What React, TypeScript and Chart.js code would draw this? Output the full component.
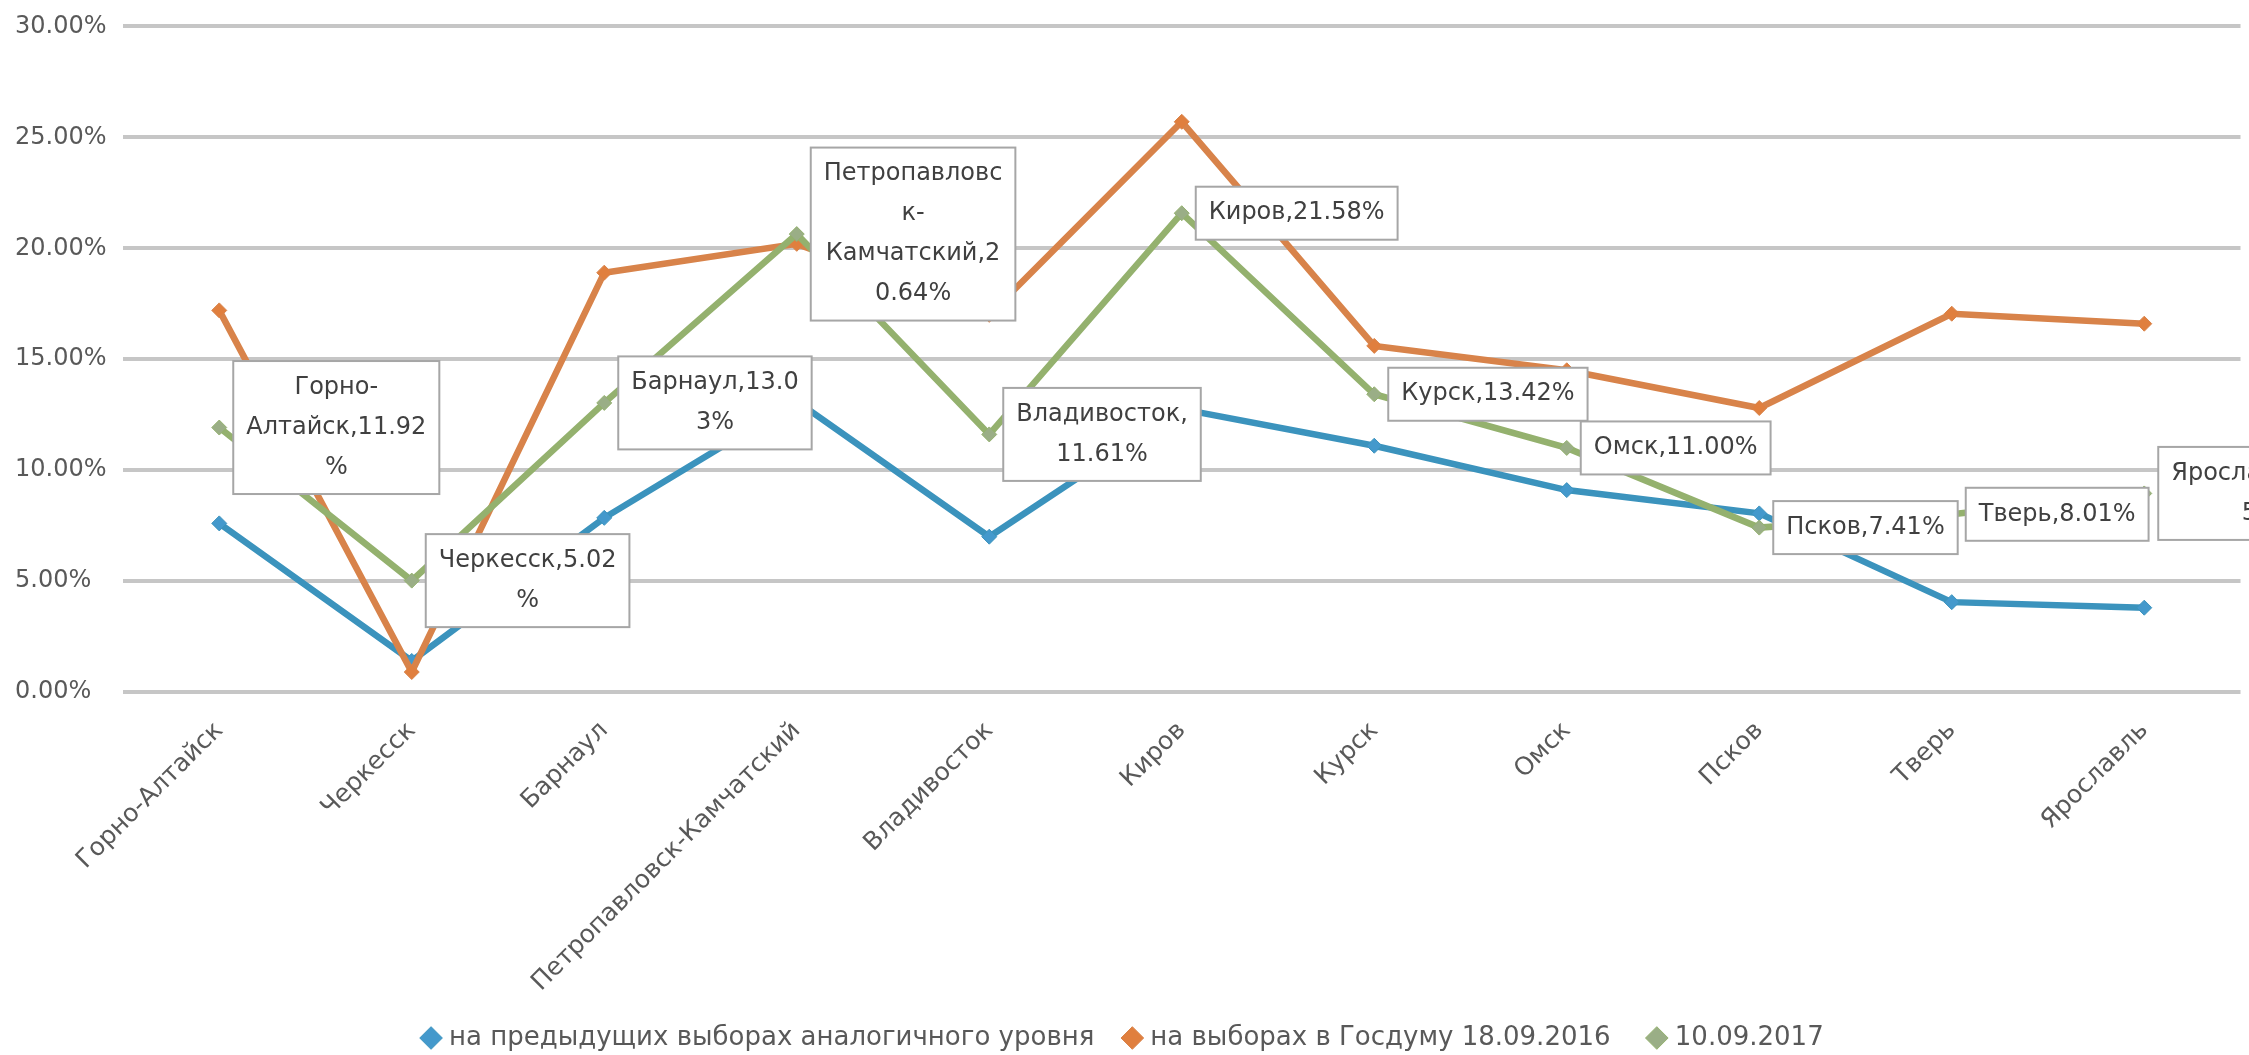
import { useEffect, useRef } from 'react';
import { Chart, registerables } from 'chart.js';

Chart.register(...registerables);

const categories = [
  'Горно-Алтайск',
  'Черкесск',
  'Барнаул',
  'Петропавловск-Камчатский',
  'Владивосток',
  'Киров',
  'Курск',
  'Омск',
  'Псков',
  'Тверь',
  'Ярославль',
];

const seriesNames = [
  'на предыдущих выборах аналогичного уровня',
  'на выборах в Госдуму 18.09.2016',
  '10.09.2017',
];

const prevLevel = [7.6, 1.4, 7.85, 13.1, 7.0, 12.75, 11.1, 9.1, 8.05, 4.05, 3.8];
const duma2016 = [17.2, 0.9, 18.9, 20.2, 17.0, 25.7, 15.6, 14.5, 12.8, 17.05, 16.6];
const sep2017 = [11.92, 5.02, 13.03, 20.64, 11.61, 21.58, 13.42, 11.0, 7.41, 8.01, 8.95];

const yTicks = [0, 5, 10, 15, 20, 25, 30];

// data-label text for the 10.09.2017 series, wrapped as in the original
const labelLines = [
  ['Горно-', 'Алтайск,11.92', '%'],
  ['Черкесск,5.02', '%'],
  ['Барнаул,13.0', '3%'],
  ['Петропавловс', 'к-', 'Камчатский,2', '0.64%'],
  ['Владивосток,', '11.61%'],
  ['Киров,21.58%'],
  ['Курск,13.42%'],
  ['Омск,11.00%'],
  ['Псков,7.41%'],
  ['Тверь,8.01%'],
  ['Ярославль,8.9', '5%'],
];

const FONT = '"DejaVu Sans", sans-serif';

const labelPlugin = {
  id: 'boxLabels',
  afterDatasetsDraw(chart: any) {
    const ctx = chart.ctx as CanvasRenderingContext2D;
    const meta = chart.getDatasetMeta(2);
    ctx.save();
    ctx.font = `24px ${FONT}`;
    ctx.textAlign = 'center';
    ctx.textBaseline = 'middle';
    meta.data.forEach((pt: any, i: number) => {
      const lines = labelLines[i];
      const maxW = Math.max(...lines.map((l) => ctx.measureText(l).width));
      const w = maxW + 26;
      const lh = 40;
      const h = lines.length * lh + 13;
      const left = pt.x + 14;
      const top = pt.y - h / 2;
      ctx.fillStyle = '#ffffff';
      ctx.fillRect(left, top, w, h);
      ctx.strokeStyle = '#a6a6a6';
      ctx.lineWidth = 2;
      ctx.strokeRect(left, top, w, h);
      ctx.fillStyle = '#404040';
      lines.forEach((l, k) => {
        ctx.fillText(l, left + w / 2, top + 6.5 + lh / 2 + k * lh);
      });
    });
    ctx.restore();
  },
};

export default function App() {
  const ref = useRef<HTMLCanvasElement | null>(null);

  useEffect(() => {
    document.body.style.margin = '0';
    if (!ref.current) return;
    const mk = (label: string, data: number[], line: string, fill: string, order: number) => ({
      label,
      data,
      borderColor: line,
      backgroundColor: fill,
      pointBackgroundColor: fill,
      pointBorderColor: line,
      pointBorderWidth: 1,
      borderWidth: 6.5,
      pointStyle: 'rectRot' as const,
      pointRadius: 7.5,
      tension: 0,
      order,
    });
    const chart = new Chart(ref.current, {
      type: 'line',
      data: {
        labels: categories,
        datasets: [
          mk(seriesNames[0], prevLevel, '#3b93bd', '#4499cc', 3),
          mk(seriesNames[1], duma2016, '#d8834a', '#e07f3e', 2),
          mk(seriesNames[2], sep2017, '#94b16e', '#9aae86', 1),
        ],
      },
      options: {
        animation: false,
        responsive: false,
        layout: { padding: { top: 25, left: 15, right: 6, bottom: 0 } },
        plugins: {
          legend: {
            position: 'bottom',
            maxHeight: 63,
            labels: {
              usePointStyle: true,
              pointStyle: 'rectRot',
              boxWidth: 10,
              boxHeight: 16,
              padding: 33,
              color: '#595959',
              font: { family: FONT, size: 26 },
              sort: (a: any, b: any) => a.datasetIndex - b.datasetIndex,
              generateLabels: (chart: any) => {
                const items = Chart.defaults.plugins.legend.labels.generateLabels(chart);
                return items.map((it: any, i: number) =>
                  i < items.length - 1 ? { ...it, text: it.text + ' ' } : it,
                );
              },
            },
          },
          tooltip: { enabled: false },
        },
        scales: {
          x: {
            offset: true,
            grid: { display: false, drawTicks: false },
            border: { display: false },
            afterFit: (scale: any) => {
              scale.height = 300;
            },
            ticks: {
              autoSkip: false,
              minRotation: 45,
              maxRotation: 45,
              padding: 24,
              color: '#595959',
              font: { family: FONT, size: 25 },
            },
          },
          y: {
            min: 0,
            max: 30,
            afterFit: (scale: any) => {
              scale.width = 108;
            },
            afterBuildTicks: (scale: any) => {
              scale.ticks = yTicks.map((v) => ({ value: v }));
            },
            grid: { color: '#c6c6c6', lineWidth: 4, drawTicks: false },
            border: { display: false },
            ticks: {
              crossAlign: 'far',
              padding: 12,
              color: '#595959',
              font: { family: FONT, size: 24 },
              callback: (v: any) => Number(v).toFixed(2) + '%',
            },
          },
        },
      },
      plugins: [labelPlugin],
    });
    return () => chart.destroy();
  }, []);

  return (
    <div style={{ width: 2249, height: 1055 }}>
      <canvas ref={ref} width={2249} height={1055} style={{ display: 'block' }} />
    </div>
  );
}
